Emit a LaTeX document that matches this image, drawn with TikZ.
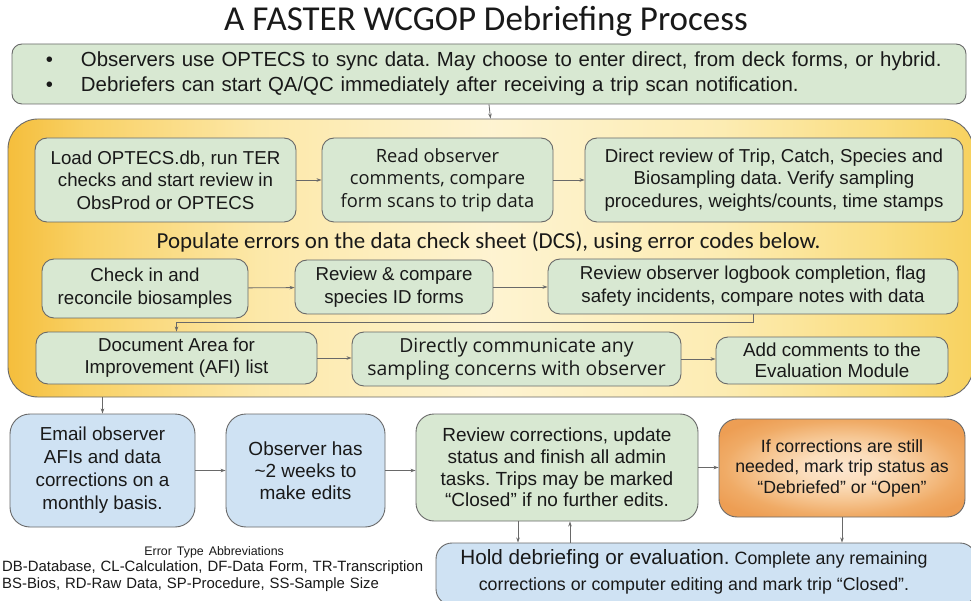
\documentclass[tikz,border=0pt]{standalone}
\usepackage{fontspec}
\setmainfont{Liberation Sans}
\newfontfamily\calfont{Carlito}
\newfontfamily\osfont{Open Sans}
\usetikzlibrary{arrows.meta,calc}
\definecolor{gfill}{RGB}{216,232,210}
\definecolor{bfill}{RGB}{207,226,243}
\definecolor{bord}{RGB}{105,105,105}
\definecolor{txt}{RGB}{25,25,25}
\pgfdeclarehorizontalshading{yshade}{100bp}{
  rgb(0bp)=(0.96,0.745,0.235);
  rgb(25bp)=(0.96,0.745,0.235);
  rgb(29bp)=(0.975,0.82,0.40);
  rgb(38bp)=(0.99,0.91,0.66);
  rgb(50bp)=(0.995,0.955,0.82);
  rgb(62bp)=(0.99,0.925,0.70);
  rgb(70bp)=(0.98,0.87,0.51);
  rgb(75bp)=(0.97,0.82,0.37);
  rgb(100bp)=(0.97,0.82,0.37)}
\pgfdeclareradialshading{oshade}{\pgfpoint{0bp}{0bp}}{
  rgb(0bp)=(0.99,0.90,0.81);
  rgb(8bp)=(0.985,0.87,0.74);
  rgb(16bp)=(0.965,0.78,0.58);
  rgb(24bp)=(0.94,0.67,0.40);
  rgb(30bp)=(0.93,0.62,0.33);
  rgb(50bp)=(0.93,0.62,0.33)}
\newcommand\fsz[2]{\fontsize{#1}{#2}\selectfont}
\begin{document}
\frenchspacing
\begin{tikzpicture}[x=1pt,y=-1pt,
  gbox/.style={draw=bord, line width=0.9pt, rounded corners=12pt, fill=gfill, text=txt, align=center, inner sep=2pt},
  bbox/.style={gbox, fill=bfill, rounded corners=20pt},
  arr/.style={draw=bord, line width=0.8pt, -{Stealth[length=5pt,width=3.5pt]}},
  plain/.style={text=txt, inner sep=0pt}
]
\useasboundingbox (0,0) rectangle (971,601);
\fill[white] (0,0) rectangle (971,601);

% title
\node[plain, font=\calfont\fsz{35}{40}] (title) at (486,21) {A FASTER WCGOP Debriefing Process};

% top box
\node[gbox, rounded corners=10pt, minimum width=954pt, minimum height=60pt, text width=924pt, align=left, font=\fsz{20.4}{25}] (top) at (489,74)
  {\hspace*{19pt}\makebox[35pt][l]{\textbullet}Observers use OPTECS to sync data. May choose to enter direct, from deck forms, or hybrid.\\
   \hspace*{19pt}\makebox[35pt][l]{\textbullet}Debriefers can start QA/QC immediately after receiving a trip scan notification.};

% yellow region
\node[draw=bord, line width=0.9pt, rounded corners=30pt, minimum width=965pt, minimum height=278pt,
      shading=yshade, inner sep=0pt] (yreg) at (490.5,258) {};

% row 1
\node[gbox, minimum width=261pt, minimum height=84pt, font=\fsz{18.7}{22.5}] (b1) at (165.5,180)
  {Load OPTECS.db, run TER\\checks and start review in\\ObsProd or OPTECS};
\node[gbox, minimum width=231pt, minimum height=84pt, font=\osfont\fsz{18.3}{22.5}] (b2) at (437.5,180)
  {Read observer\\comments, compare\\form scans to trip data};
\node[gbox, minimum width=378pt, minimum height=84pt, font=\fsz{18.7}{22.5}] (b3) at (774,180)
  {Direct review of Trip, Catch, Species and\\Biosampling data. Verify sampling\\procedures, weights/counts, time stamps};

\node[plain, font=\calfont\fsz{22.9}{24}] (pop) at (488.5,242) {Populate errors on the data check sheet (DCS), using error codes below.};

% row 2
\node[gbox, minimum width=206pt, minimum height=59pt, font=\fsz{18.7}{23}] (c1) at (145,288.5)
  {Check in and\\reconcile biosamples};
\node[gbox, minimum width=198pt, minimum height=54pt, font=\fsz{18.7}{23}] (c2) at (394,287)
  {Review \& compare\\species ID forms};
\node[gbox, minimum width=410pt, minimum height=55pt, font=\fsz{18.7}{23}] (c3) at (753,286.5)
  {Review observer logbook completion, flag\\safety incidents, compare notes with data};

% row 3
\node[gbox, minimum width=281pt, minimum height=52pt, font=\fsz{18.7}{22}] (d1) at (176.5,358)
  {Document Area for\\Improvement (AFI) list};
\node[gbox, minimum width=329pt, minimum height=54pt, font=\osfont\fsz{19.4}{22.5}] (d2) at (516.5,359)
  {Directly communicate any\\sampling concerns with observer};
\node[gbox, minimum width=232pt, minimum height=47pt, font=\fsz{18.8}{20.5}] (d3) at (832,360.5)
  {Add comments to the\\Evaluation Module};

% row 4
\node[bbox, minimum width=185pt, minimum height=113pt, font=\fsz{18.8}{23}] (e1) at (102.5,470.5)
  {Email observer\\AFIs and data\\corrections on a\\monthly basis.};
\node[bbox, minimum width=159pt, minimum height=113pt, font=\fsz{19}{22}] (e2) at (305.5,470.5)
  {Observer has\\\textasciitilde2 weeks to\\make edits};
\node[gbox, rounded corners=18pt, minimum width=282pt, minimum height=107pt, font=\fsz{19}{21.7}] (e3) at (557,467.5)
  {Review corrections, update\\status and finish all admin\\tasks. Trips may be marked\\“Closed” if no further edits.};
\node[draw=bord, line width=0.9pt, rounded corners=18pt, minimum width=246pt, minimum height=98pt,
      shading=oshade, text=txt, align=center, font=\fsz{17.7}{20.5}] (e4) at (842,468)
  {If corrections are still\\needed, mark trip status as\\“Debriefed” or “Open”};

% row 5
\node[bbox, rounded corners=16pt, minimum width=540pt, minimum height=62pt] (f) at (706,574) {};
\node[plain, align=center, font=\fsz{17.8}{26}] (ftext) at (694,572)
  {{\fsz{20.7}{26}Hold debriefing or evaluation.} Complete any remaining\\corrections or computer editing and mark trip “Closed”.};

% legend
\node[plain, text width=424pt, align=left, font=\fsz{14.9}{16.5}, anchor=north west] (leg) at (2,546)
  {\makebox[\linewidth][c]{\fsz{12.4}{16.5}Error Type Abbreviations}\\
   DB-Database, CL-Calculation, DF-Data Form, TR-Transcription\\
   BS-Bios, RD-Raw Data, SP-Procedure, SS-Sample Size};

% connectors
\draw[arr] (top.south) -- (yreg.north);
\draw[arr] (b1) -- (b2);
\draw[arr] (b2) -- (b3);
\draw[arr] (c1) -- (c2);
\draw[arr] (c2.east) -- (c2.east -| c3.west);
\draw[arr] (c3.south) -- ++(0,8) -| (d1.north);
\draw[arr] (d1.east) -- (d1.east -| d2.west);
\draw[arr] (d2.east) -- (d2.east -| d3.west);
\draw[arr] (yreg.south -| e1.north) -- (e1.north);
\draw[arr] (e1.east) -- (e1.east -| e2.west);
\draw[arr] (e2.east) -- (e2.east -| e3.west);
\draw[arr] (e3.east) -- (e3.east -| e4.west);
\draw[arr] ([xshift=-39pt]e3.south) -- ([xshift=-39pt]e3.south |- f.north);
\draw[arr] ([xshift=13pt]e3.south |- f.north) -- ([xshift=13pt]e3.south);
\draw[arr] (e4.south) -- (e4.south |- f.north);
\end{tikzpicture}
\end{document}
